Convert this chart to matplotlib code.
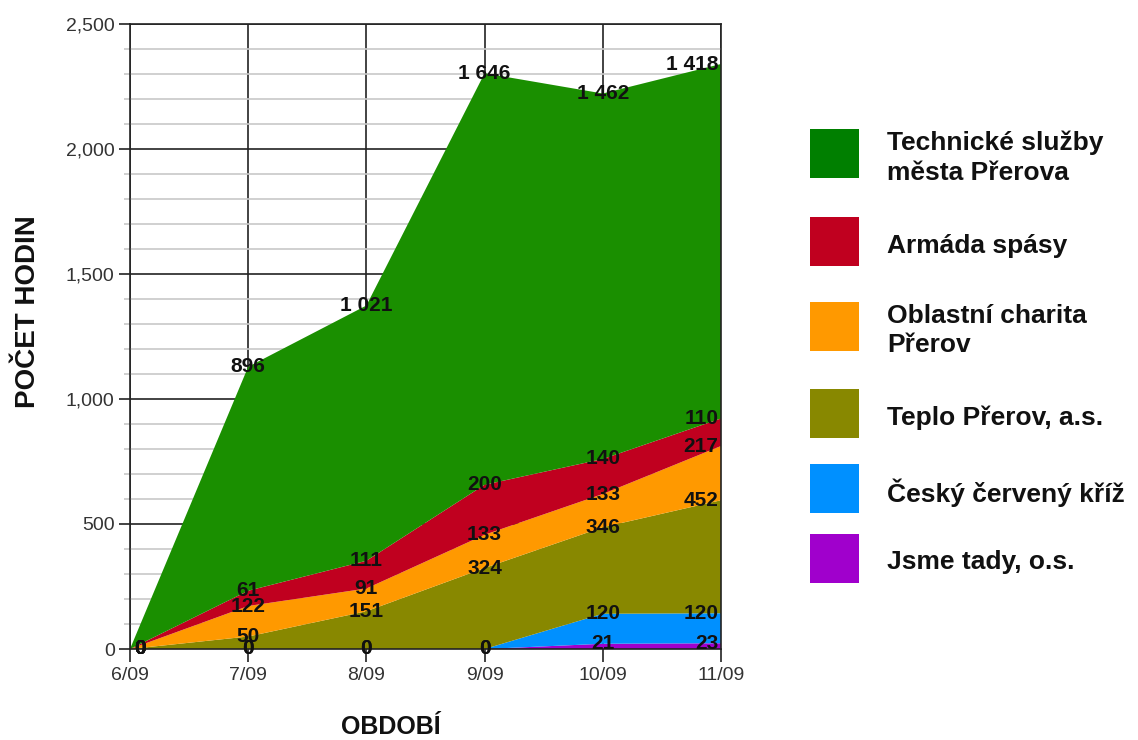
import matplotlib.pyplot as plt
from matplotlib.patches import Rectangle
from matplotlib.ticker import MultipleLocator, FuncFormatter
import numpy as np

plt.rcParams['font.family'] = ['Liberation Sans', 'DejaVu Sans']

periods = ['6/09', '7/09', '8/09', '9/09', '10/09', '11/09']

# bottom to top, as stacked
series_names = ['Jsme tady, o.s.', 'Český červený kříž', 'Teplo Přerov, a.s.',
                'Oblastní charita\nPřerov', 'Armáda spásy',
                'Technické služby\nměsta Přerova']
jsme_tady = [0, 0, 0, 0, 21, 23]
cesky_kriz = [0, 0, 0, 0, 120, 120]
teplo = [0, 50, 151, 324, 346, 452]
charita = [0, 122, 91, 133, 133, 217]
armada = [0, 61, 111, 200, 140, 110]
technicke = [0, 896, 1021, 1646, 1462, 1418]

area_colors = ['#a000cc', '#0090ff', '#888800', '#ff9900', '#c0001f', '#1a8f00']
legend_colors = ['#a000cc', '#0090ff', '#888800', '#ff9900', '#c0001f', '#007f00']

W, H = 1138, 740
fig = plt.figure(figsize=(W / 100, H / 100), dpi=100)
ax = fig.add_axes([130 / W, 1 - 649 / H, (721 - 130) / W, (649 - 24) / H])

x = np.arange(len(periods))
values = [jsme_tady, cesky_kriz, teplo, charita, armada, technicke]
ax.stackplot(x, *values, colors=area_colors, linewidth=0)

# value labels at the top edge of every layer
tops = np.cumsum(np.array(values), axis=0)
for layer, top in zip(values, tops):
    for i, (v, t) in enumerate(zip(layer, top)):
        txt = f'{v:,}'.replace(',', ' ')
        if i == 0:
            ha, dx = 'left', 3
        elif i == len(periods) - 1:
            ha, dx = 'right', -2
        else:
            ha, dx = 'center', 0
        ax.annotate(txt, (x[i], t), xytext=(dx, 0), textcoords='offset points',
                    ha=ha, va='center', fontsize=15, fontweight='bold',
                    color='#111111', zorder=5)

ax.set_xlim(0, len(periods) - 1)
ax.set_ylim(0, 2500)
ax.set_xticks(x)
ax.set_xticklabels(periods)
ax.yaxis.set_major_locator(MultipleLocator(500))
ax.yaxis.set_minor_locator(MultipleLocator(100))
ax.yaxis.set_major_formatter(FuncFormatter(lambda v, p: f'{v:,.0f}'))

ax.set_axisbelow(True)
ax.grid(which='major', color='#222222', linewidth=1.2)
ax.yaxis.grid(which='minor', color='#c8c8c8', linewidth=1.2)

for s in ax.spines.values():
    s.set_color('#222222')
    s.set_linewidth(1.2)

ax.tick_params(axis='x', which='major', length=9, width=1.2, color='#222222',
               labelsize=14, labelcolor='#333333', pad=4)
ax.tick_params(axis='y', which='major', length=8, width=1.2, color='#222222',
               labelsize=14, labelcolor='#333333', pad=3)
ax.tick_params(axis='y', which='minor', length=4, width=1.2, color='#c8c8c8')

fig.text(28 / W, 1 - 312 / H, 'POČET HODIN', rotation=90, ha='center', va='center',
         fontsize=20, fontweight='bold', color='#111111')
fig.text(391 / W, 1 - 727 / H, 'OBDOBÍ', ha='center', va='center',
         fontsize=18, fontweight='bold', color='#111111')

# legend, top to bottom
square_tops = [129, 217, 302, 389, 464, 534]
names_top_down = series_names[::-1]
colors_top_down = legend_colors[::-1]
for top, name, col in zip(square_tops, names_top_down, colors_top_down):
    fig.add_artist(Rectangle((810 / W, 1 - (top + 49) / H), 49 / W, 49 / H,
                             transform=fig.transFigure, facecolor=col,
                             edgecolor='none'))
    fig.text(887 / W, 1 - (top + 24.5 + 4) / H, name, ha='left', va='center',
             fontsize=19, fontweight='bold', color='#111111', linespacing=1.3)

fig.savefig('out.png', dpi=100)
